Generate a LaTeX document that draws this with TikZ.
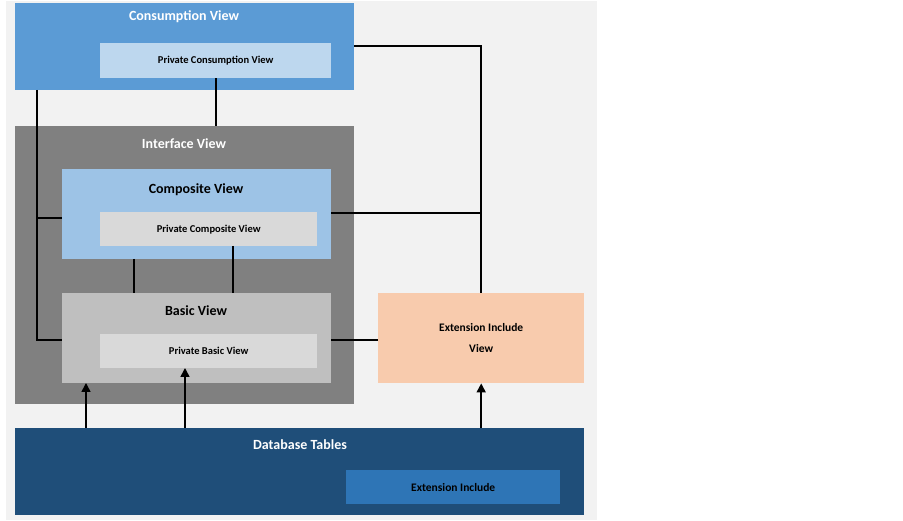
\documentclass[tikz,border=0pt]{standalone}
\usepackage{fontspec}
\setmainfont{Carlito}
\usetikzlibrary{positioning,arrows.meta}

\tikzset{
  box/.style={rectangle,inner sep=0pt,anchor=north west},
  title/.style={font=\bfseries\fontsize{14}{16}\selectfont},
  sub/.style={font=\bfseries\fontsize{10.5}{13}\selectfont},
  link/.style={line width=1.6pt},
  feed/.style={line width=1.6pt,-{Triangle[length=9pt,width=9pt]}}
}

\begin{document}
\begin{tikzpicture}[x=1pt,y=-1pt]
  \useasboundingbox (0,0) rectangle (903,521);
  \fill[fill={rgb,255:red,242;green,242;blue,242}] (6,1) rectangle (597,520);

  % boxes
  \node[box,fill={rgb,255:red,91;green,155;blue,213},minimum width=339pt,minimum height=87pt] (cons) at (15,3) {};
  \node[box,fill={rgb,255:red,189;green,215;blue,238},minimum width=231pt,minimum height=35pt] (pcons) at (100,43) {};
  \node[box,fill={rgb,255:red,128;green,128;blue,128},minimum width=339pt,minimum height=278pt] (iface) at (15,126) {};
  \node[box,fill={rgb,255:red,157;green,195;blue,230},minimum width=269pt,minimum height=90pt] (comp) at (62,169) {};
  \node[box,fill={rgb,255:red,217;green,217;blue,217},minimum width=217pt,minimum height=34pt] (pcomp) at (100,212) {};
  \node[box,fill={rgb,255:red,191;green,191;blue,191},minimum width=269pt,minimum height=90pt] (basic) at (62,293) {};
  \node[box,fill={rgb,255:red,217;green,217;blue,217},minimum width=217pt,minimum height=34pt] (pbasic) at (100,334) {};
  \node[box,fill={rgb,255:red,248;green,203;blue,173},minimum width=206pt,minimum height=90pt,
        align=center,sub,anchor=north west,font=\bfseries\fontsize{11.5}{21}\selectfont] (extv) at (378,293) {};
  \node[box,fill={rgb,255:red,31;green,78;blue,121},minimum width=569pt,minimum height=87pt] (db) at (15,428) {};
  \node[box,fill={rgb,255:red,46;green,117;blue,182},minimum width=214pt,minimum height=34pt] (ext) at (346,470) {};

  % texts
  \node[title,text=white] at (184,17) {Consumption View};
  \node[sub] at (pcons.center) {Private Consumption View};
  \node[title,text=white] at (184,144) {Interface View};
  \node[title] at (196,190) {Composite View};
  \node[sub] at (pcomp.center) {Private Composite View};
  \node[title] at (196,311) {Basic View};
  \node[sub] at (pbasic.center) {Private Basic View};
  \node[align=center,font=\bfseries\fontsize{11.5}{21}\selectfont] at (extv.center) {Extension Include\\View};
  \node[title,text=white] at (300,445) {Database Tables};
  \node[sub,font=\bfseries\fontsize{11.5}{13}\selectfont] at (ext.center) {Extension Include};

  % connectors
  \coordinate (lt) at (37,90);
  \coordinate (rt) at (481,46);
  \draw[link] (lt) |- (62,340);
  \draw[link] (37,218) -- (62,218);
  \draw[link] (pcons.south) -- (iface.north -| pcons.south);
  \draw[link] (134,259) -- (134,293);
  \draw[link] (233,246) -- (233,293);
  \draw[link] (354,46) -| (extv.north);
  \draw[link] (331,213) -- (481,213);
  \draw[link] (331,340) -- (378,340);
  \draw[feed] (86,428) -- (86,383);
  \draw[feed] (185,428) -- (185,368);
  \draw[feed] (db.north -| extv.south) -- (extv.south);
\end{tikzpicture}
\end{document}
